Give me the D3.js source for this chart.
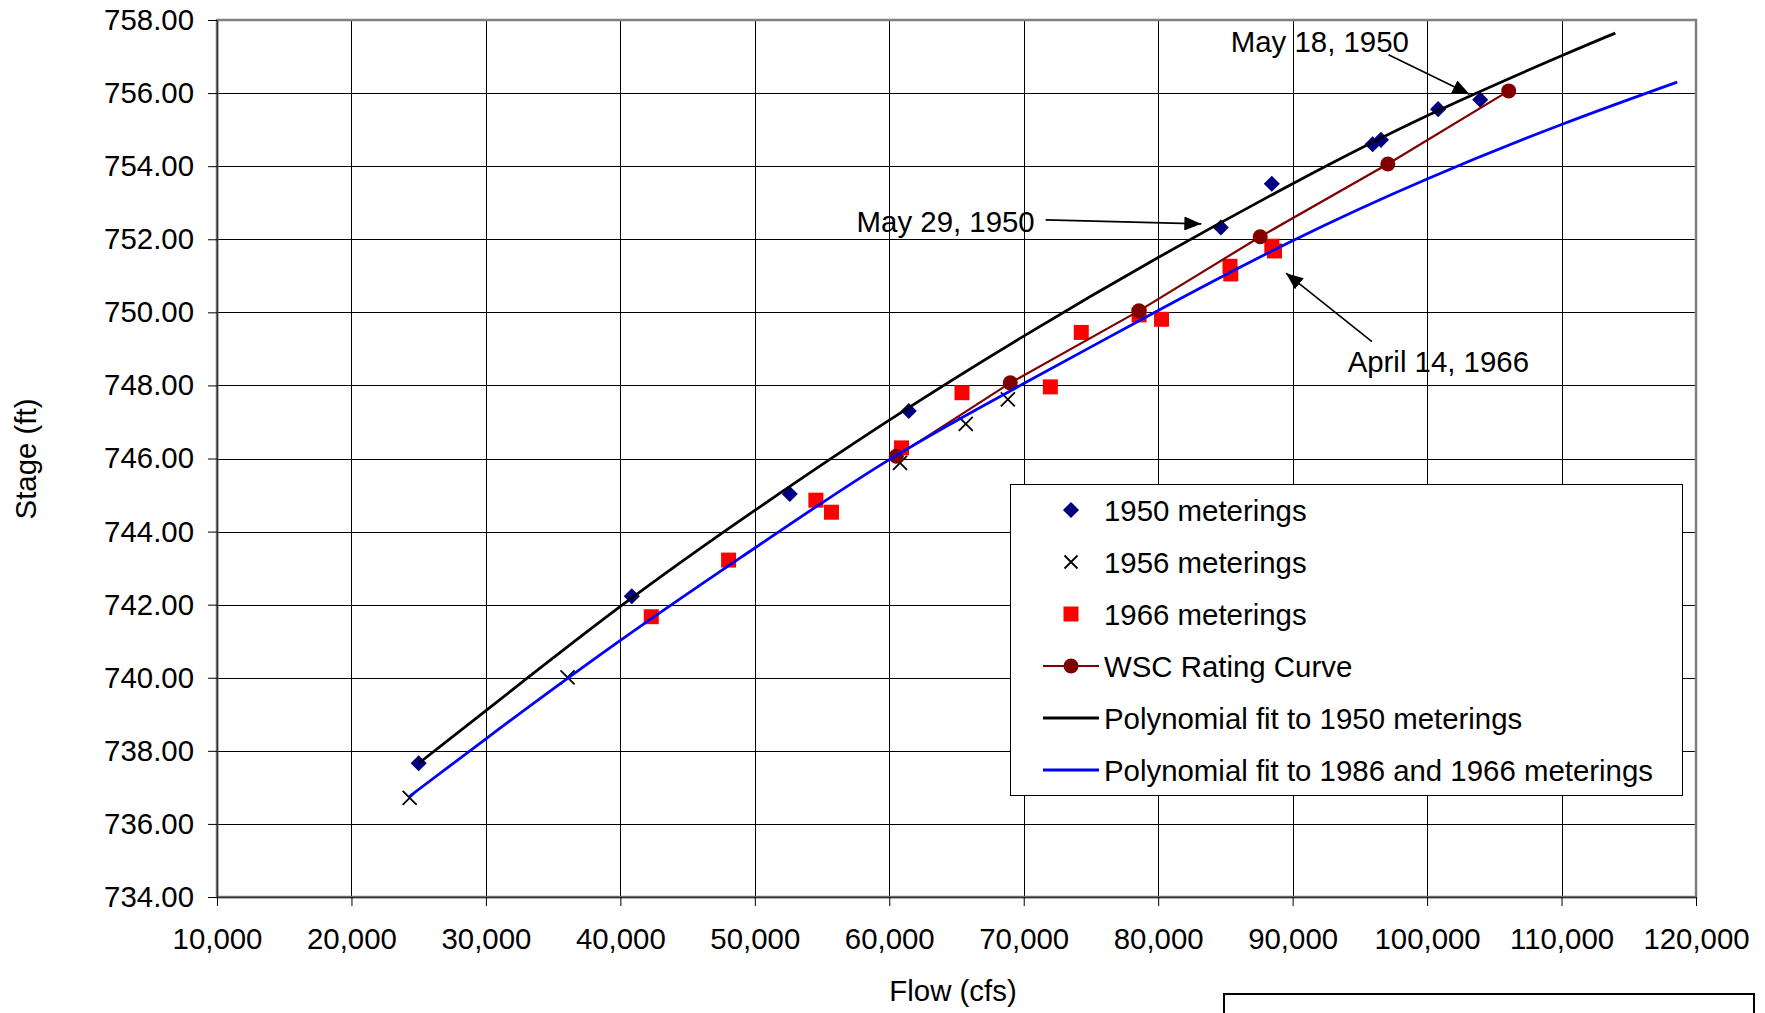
<!DOCTYPE html>
<html>
<head>
<meta charset="utf-8">
<script src="https://cdn.jsdelivr.net/npm/d3@7"></script>
<style>
  html, body { margin: 0; padding: 0; background: #fff; }
  svg text { font-family: "Liberation Sans", Arial, sans-serif; fill: #000; }
</style>
</head>
<body>
<div id="chart"></div>
<script>
// flow (cfs), stage (ft)
const xTicks = [10000, 20000, 30000, 40000, 50000, 60000, 70000, 80000, 90000, 100000, 110000, 120000];
const yTicks = [734, 736, 738, 740, 742, 744, 746, 748, 750, 752, 754, 756, 758];

const meterings1950 = [
  [25000, 737.66], [40850, 742.23], [52600, 745.03], [61450, 747.30], [84660, 752.32],
  [88450, 753.52], [95950, 754.60], [96570, 754.72], [100820, 755.56], [103950, 755.82]
];
const meterings1956 = [
  [24330, 736.71], [36070, 740.01], [60800, 745.88], [65690, 746.95], [68820, 747.62]
];
const meterings1966 = [
  [42300, 741.67], [48050, 743.22], [54540, 744.86], [55700, 744.53], [60910, 746.29],
  [65410, 747.80], [71980, 747.96], [74280, 749.45], [78580, 749.93], [80250, 749.81],
  [85340, 751.26], [85400, 751.05], [88450, 751.81], [88650, 751.68]
];
const wscCurve = [
  [60520, 746.06], [69000, 748.07], [78570, 750.04], [87590, 752.07], [97080, 754.06], [106070, 756.06]
];
// trend lines
const fit1950 = [
  [25000, 737.66], [30000, 739.10], [40000, 741.95], [50000, 744.58], [60000, 747.05], [70000, 749.35],
  [80000, 751.50], [90000, 753.52], [100000, 755.38], [110000, 757.02], [114000, 757.64]
];
const fit1956and1966 = [
  [24300, 736.75], [30000, 738.33], [40000, 741.02], [50000, 743.55], [60000, 745.97], [70000, 748.05],
  [80000, 750.05], [90000, 751.96], [100000, 753.65], [110000, 755.14], [118600, 756.30]
];

const legendLabels = [
  '1950 meterings', '1956 meterings', '1966 meterings', 'WSC Rating Curve',
  'Polynomial fit to 1950 meterings', 'Polynomial fit to 1986 and 1966 meterings'
];

// annotations: text anchor and arrow in data units
const notes = [
  { label: 'May 18, 1950', at: [85400, 757.41], from: [97130, 757.05], to: [103160, 755.97] },
  { label: 'May 29, 1950', at: [57570, 752.49], from: [71630, 752.53], to: [83210, 752.42] },
  { label: 'April 14, 1966', at: [94090, 748.65], from: [95900, 749.20], to: [89510, 751.07] }
];

const width = 1765;
const height = 1013;
const plot = { left: 217, right: 1696, top: 20, bottom: 897 };
const fontSize = 29.4;

const svg = d3.select('#chart')
  .append('svg')
  .attr('width', width)
  .attr('height', height);

const x = d3.scaleLinear().domain([10000, 120000]).range([plot.left, plot.right]);
const y = d3.scaleLinear().domain([734, 758]).range([plot.bottom, plot.top]);

// arrow head
svg.append('defs')
  .append('marker')
  .attr('id', 'arrow')
  .attr('markerUnits', 'userSpaceOnUse')
  .attr('viewBox', '0 0 17 14')
  .attr('refX', 17)
  .attr('refY', 7)
  .attr('markerWidth', 17)
  .attr('markerHeight', 14)
  .attr('orient', 'auto')
  .append('path')
  .attr('d', 'M0,0L17,7L0,14Z')
  .style('fill', '#000');

// grid
const grid = svg.append('g').attr('class', 'grid');
grid.selectAll('.hgrid')
  .data(yTicks)
  .enter()
  .append('line')
  .attr('x1', plot.left).attr('x2', plot.right)
  .attr('y1', d => Math.round(y(d)) + 0.5).attr('y2', d => Math.round(y(d)) + 0.5)
  .style('stroke', '#000').style('stroke-width', 1);
grid.selectAll('.vgrid')
  .data(xTicks)
  .enter()
  .append('line')
  .attr('y1', plot.top).attr('y2', plot.bottom)
  .attr('x1', d => Math.round(x(d)) + 0.5).attr('x2', d => Math.round(x(d)) + 0.5)
  .style('stroke', '#000').style('stroke-width', 1);

// plot frame
svg.append('rect')
  .attr('x', plot.left).attr('y', plot.top)
  .attr('width', plot.right - plot.left).attr('height', plot.bottom - plot.top)
  .style('fill', 'none').style('stroke', '#808080').style('stroke-width', 2.5);

// axes
const yAxis = d3.axisLeft(y).tickValues(yTicks).tickFormat(d3.format('.2f')).tickSize(9).tickSizeOuter(0).tickPadding(14);
const xAxis = d3.axisBottom(x).tickValues(xTicks).tickFormat(d3.format(',')).tickSize(9).tickSizeOuter(0).tickPadding(22);

const gy = svg.append('g').attr('transform', `translate(${plot.left},0)`).call(yAxis);
const gx = svg.append('g').attr('transform', `translate(0,${plot.bottom})`).call(xAxis);
[gx, gy].forEach(g => {
  g.select('.domain').style('stroke', '#333').style('stroke-width', 1.5);
  g.selectAll('.tick line').style('stroke', '#000');
  g.selectAll('.tick text').style('font-size', fontSize + 'px').style('fill', '#000')
    .style('font-family', '"Liberation Sans", Arial, sans-serif');
});

svg.append('text')
  .attr('transform', 'translate(25,459) rotate(-90)')
  .attr('text-anchor', 'middle')
  .attr('dominant-baseline', 'central')
  .style('font-size', fontSize + 'px')
  .text('Stage (ft)');

svg.append('text')
  .attr('x', 953).attr('y', 990)
  .attr('text-anchor', 'middle')
  .attr('dominant-baseline', 'central')
  .style('font-size', fontSize + 'px')
  .text('Flow (cfs)');

// markers
const diamond = d3.symbol().type(d3.symbolSquare).size(130);
const square = d3.symbol().type(d3.symbolSquare).size(225);
const cross = 'M-7,-7L7,7M7,-7L-7,7';

const marks = svg.append('g').attr('class', 'marks');

marks.append('g')
  .selectAll('path')
  .data(meterings1950)
  .enter()
  .append('path')
  .attr('d', diamond)
  .attr('transform', d => `translate(${x(d[0])},${y(d[1])}) rotate(45)`)
  .style('fill', '#000080');

marks.append('g')
  .selectAll('path')
  .data(meterings1956)
  .enter()
  .append('path')
  .attr('d', cross)
  .attr('transform', d => `translate(${x(d[0])},${y(d[1])})`)
  .style('fill', 'none').style('stroke', '#000').style('stroke-width', 1.8);

marks.append('g')
  .selectAll('path')
  .data(meterings1966)
  .enter()
  .append('path')
  .attr('d', square)
  .attr('transform', d => `translate(${x(d[0])},${y(d[1])})`)
  .style('fill', '#ff0000');

// WSC rating curve
const straight = d3.line().x(d => x(d[0])).y(d => y(d[1]));
marks.append('path')
  .attr('d', straight(wscCurve))
  .style('fill', 'none').style('stroke', '#800000').style('stroke-width', 2.2);
marks.append('g')
  .selectAll('circle')
  .data(wscCurve)
  .enter()
  .append('circle')
  .attr('cx', d => x(d[0])).attr('cy', d => y(d[1]))
  .attr('r', 7.5)
  .style('fill', '#800000');

// polynomial fits
const smooth = d3.line().curve(d3.curveNatural).x(d => x(d[0])).y(d => y(d[1]));
marks.append('path')
  .attr('d', smooth(fit1950))
  .style('fill', 'none').style('stroke', '#000').style('stroke-width', 2.8);
marks.append('path')
  .attr('d', smooth(fit1956and1966))
  .style('fill', 'none').style('stroke', '#0000ff').style('stroke-width', 2.8);

// annotations
const ann = svg.append('g').attr('class', 'notes');
notes.forEach(n => {
  ann.append('text')
    .attr('x', x(n.at[0])).attr('y', y(n.at[1]))
    .attr('dominant-baseline', 'central')
    .style('font-size', fontSize + 'px')
    .text(n.label);
  ann.append('line')
    .attr('x1', x(n.from[0])).attr('y1', y(n.from[1]))
    .attr('x2', x(n.to[0])).attr('y2', y(n.to[1]))
    .attr('marker-end', 'url(#arrow)')
    .style('stroke', '#000').style('stroke-width', 1.6);
});

// legend
const legend = svg.append('g').attr('transform', 'translate(1010,484)');
legend.append('rect')
  .attr('x', 0.5).attr('y', 0.5)
  .attr('width', 672).attr('height', 311)
  .style('fill', '#fff').style('stroke', '#000').style('stroke-width', 1);

const rowY = i => 26 + i * 52;
const symX = 61;
const rows = legend.selectAll('.row')
  .data(legendLabels)
  .enter()
  .append('g')
  .attr('transform', (d, i) => `translate(0,${rowY(i)})`);

rows.append('text')
  .attr('x', 94)
  .attr('dominant-baseline', 'central')
  .style('font-size', fontSize + 'px')
  .text(d => d);

rows.filter((d, i) => i === 0).append('path')
  .attr('d', diamond).attr('transform', `translate(${symX},0) rotate(45)`).style('fill', '#000080');
rows.filter((d, i) => i === 1).append('path')
  .attr('d', 'M-6.5,-6.5L6.5,6.5M6.5,-6.5L-6.5,6.5').attr('transform', `translate(${symX},0)`)
  .style('stroke', '#000').style('stroke-width', 1.8);
rows.filter((d, i) => i === 2).append('path')
  .attr('d', square).attr('transform', `translate(${symX},0)`).style('fill', '#ff0000');

const sample = [
  { i: 3, color: '#800000', w: 2.2 },
  { i: 4, color: '#000', w: 2.8 },
  { i: 5, color: '#0000ff', w: 2.8 }
];
sample.forEach(s => {
  legend.append('line')
    .attr('x1', 33).attr('x2', 89)
    .attr('y1', rowY(s.i)).attr('y2', rowY(s.i))
    .style('stroke', s.color).style('stroke-width', s.w);
});
legend.append('circle')
  .attr('cx', symX).attr('cy', rowY(3)).attr('r', 7.5)
  .style('fill', '#800000');

// empty box at the bottom right
svg.append('rect')
  .attr('x', 1224).attr('y', 994)
  .attr('width', 530).attr('height', 40)
  .style('fill', 'none').style('stroke', '#000').style('stroke-width', 2);
</script>
</body>
</html>
